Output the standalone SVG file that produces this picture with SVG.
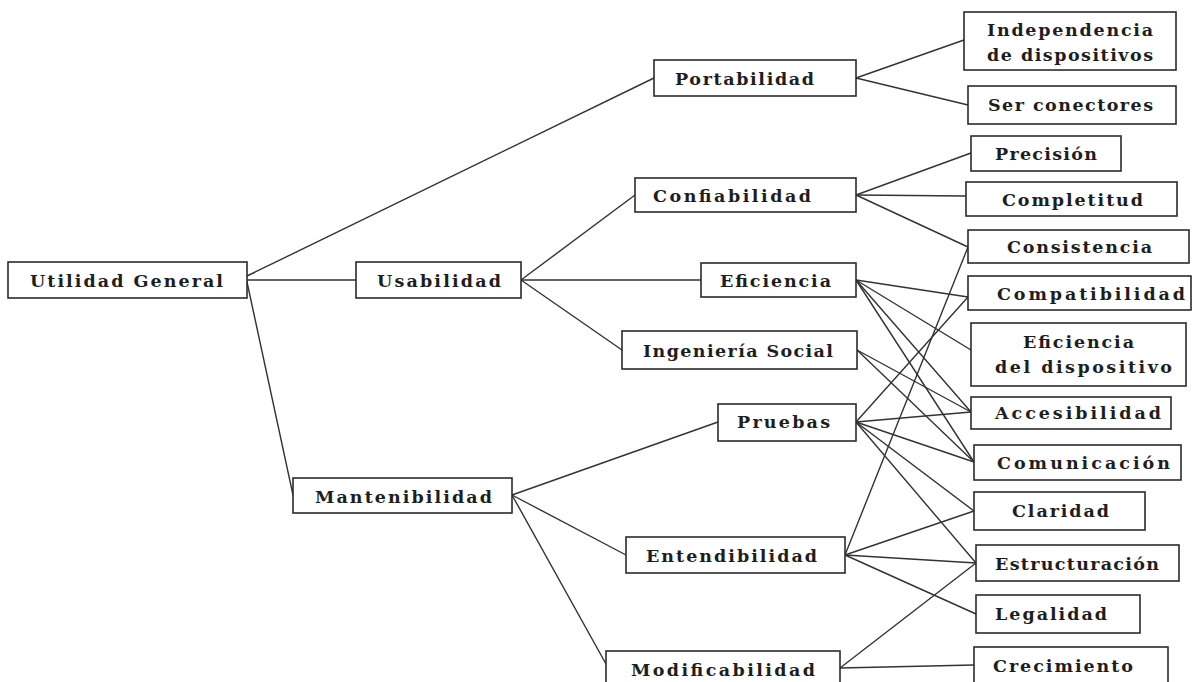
<svg xmlns="http://www.w3.org/2000/svg" width="1196" height="682" viewBox="0 0 1196 682">
  <style>
    .box { fill: #ffffff; stroke: #2b2b2b; stroke-width: 1.6; }
    .lbl { font-family: "DejaVu Serif", "Liberation Serif", serif; font-size: 17.5px; font-weight: bold; fill: #1e1e1e; text-anchor: start; }
    .links line { stroke: #333333; stroke-width: 1.4; stroke-linecap: round; }
  </style>
  <rect width="1196" height="682" fill="#ffffff"/>

  <!-- connectors -->
  <g id="connectors" class="links">
    <!-- root -->
    <line x1="247" y1="276" x2="654" y2="78"/>
    <line x1="247" y1="280" x2="356" y2="280"/>
    <line x1="247" y1="282" x2="293" y2="495"/>
    <!-- Usabilidad -->
    <line x1="521" y1="280" x2="635" y2="195"/>
    <line x1="521" y1="280" x2="701" y2="280"/>
    <line x1="521" y1="280" x2="622" y2="350"/>
    <!-- Mantenibilidad -->
    <line x1="512" y1="495" x2="718" y2="422"/>
    <line x1="512" y1="495" x2="626" y2="555"/>
    <line x1="512" y1="495" x2="606" y2="664"/>
    <!-- Portabilidad -->
    <line x1="856" y1="78" x2="964" y2="40"/>
    <line x1="856" y1="78" x2="968" y2="105"/>
    <!-- Confiabilidad -->
    <line x1="856" y1="195" x2="971" y2="153"/>
    <line x1="856" y1="195" x2="966" y2="196"/>
    <line x1="856" y1="195" x2="968" y2="247"/>
    <!-- Eficiencia -->
    <line x1="856" y1="280" x2="968" y2="297"/>
    <line x1="856" y1="280" x2="971" y2="350"/>
    <line x1="856" y1="280" x2="971" y2="412"/>
    <line x1="856" y1="280" x2="974" y2="462"/>
    <!-- Ingenieria Social -->
    <line x1="857" y1="350" x2="971" y2="412"/>
    <line x1="857" y1="350" x2="974" y2="462"/>
    <!-- Pruebas -->
    <line x1="856" y1="422" x2="968" y2="297"/>
    <line x1="856" y1="422" x2="971" y2="412"/>
    <line x1="856" y1="422" x2="974" y2="462"/>
    <line x1="856" y1="422" x2="974" y2="511"/>
    <line x1="856" y1="422" x2="976" y2="563"/>
    <!-- Entendibilidad -->
    <line x1="845" y1="555" x2="968" y2="247"/>
    <line x1="845" y1="555" x2="974" y2="511"/>
    <line x1="845" y1="555" x2="976" y2="563"/>
    <line x1="845" y1="555" x2="976" y2="614"/>
    <!-- Modificabilidad -->
    <line x1="840" y1="668" x2="976" y2="563"/>
    <line x1="840" y1="668" x2="974" y2="665"/>
  </g>

  <!-- level 0 -->
  <g id="utilidad-general">
    <rect class="box" x="8" y="262" width="239" height="36"/>
    <text class="lbl" x="30" y="287" textLength="193">Utilidad General</text>
  </g>

  <!-- level 1 -->
  <g id="usabilidad">
    <rect class="box" x="356" y="262" width="165" height="36"/>
    <text class="lbl" x="377" y="287" textLength="124">Usabilidad</text>
  </g>
  <g id="mantenibilidad">
    <rect class="box" x="293" y="478" width="219" height="35"/>
    <text class="lbl" x="315" y="503" textLength="177">Mantenibilidad</text>
  </g>

  <!-- level 2 -->
  <g id="portabilidad">
    <rect class="box" x="654" y="60" width="202" height="36"/>
    <text class="lbl" x="675" y="85" textLength="139">Portabilidad</text>
  </g>
  <g id="confiabilidad">
    <rect class="box" x="635" y="178" width="221" height="34"/>
    <text class="lbl" x="653" y="202" textLength="158">Confiabilidad</text>
  </g>
  <g id="eficiencia">
    <rect class="box" x="701" y="263" width="155" height="34"/>
    <text class="lbl" x="720" y="287" textLength="111">Eficiencia</text>
  </g>
  <g id="ingenieria-social">
    <rect class="box" x="622" y="331" width="235" height="38"/>
    <text class="lbl" x="643" y="357" textLength="190">Ingeniería Social</text>
  </g>
  <g id="pruebas">
    <rect class="box" x="718" y="404" width="138" height="37"/>
    <text class="lbl" x="737" y="428" textLength="93">Pruebas</text>
  </g>
  <g id="entendibilidad">
    <rect class="box" x="626" y="537" width="219" height="36"/>
    <text class="lbl" x="646" y="562" textLength="171">Entendibilidad</text>
  </g>
  <g id="modificabilidad">
    <rect class="box" x="606" y="651" width="234" height="40"/>
    <text class="lbl" x="631" y="676" textLength="184">Modificabilidad</text>
  </g>

  <!-- level 3 -->
  <g id="independencia-de-dispositivos">
    <rect class="box" x="964" y="12" width="212" height="58"/>
    <text class="lbl" x="987" y="36" textLength="166">Independencia</text>
    <text class="lbl" x="987" y="61" textLength="166">de dispositivos</text>
  </g>
  <g id="ser-conectores">
    <rect class="box" x="968" y="86" width="208" height="38"/>
    <text class="lbl" x="988" y="111" textLength="165">Ser conectores</text>
  </g>
  <g id="precision">
    <rect class="box" x="971" y="136" width="150" height="35"/>
    <text class="lbl" x="995" y="160" textLength="102">Precisión</text>
  </g>
  <g id="completitud">
    <rect class="box" x="966" y="182" width="211" height="34"/>
    <text class="lbl" x="1002" y="206" textLength="141">Completitud</text>
  </g>
  <g id="consistencia">
    <rect class="box" x="968" y="230" width="221" height="33"/>
    <text class="lbl" x="1007" y="253" textLength="145">Consistencia</text>
  </g>
  <g id="compatibilidad">
    <rect class="box" x="968" y="276" width="223" height="34"/>
    <text class="lbl" x="997" y="300" textLength="188">Compatibilidad</text>
  </g>
  <g id="eficiencia-del-dispositivo">
    <rect class="box" x="971" y="323" width="215" height="63"/>
    <text class="lbl" x="1023" y="348" textLength="111">Eficiencia</text>
    <text class="lbl" x="995" y="373" textLength="177">del dispositivo</text>
  </g>
  <g id="accesibilidad">
    <rect class="box" x="971" y="397" width="200" height="32"/>
    <text class="lbl" x="995" y="419" textLength="166">Accesibilidad</text>
  </g>
  <g id="comunicacion">
    <rect class="box" x="974" y="445" width="207" height="35"/>
    <text class="lbl" x="997" y="469" textLength="173">Comunicación</text>
  </g>
  <g id="claridad">
    <rect class="box" x="974" y="492" width="171" height="38"/>
    <text class="lbl" x="1012" y="517" textLength="97">Claridad</text>
  </g>
  <g id="estructuracion">
    <rect class="box" x="976" y="545" width="203" height="36"/>
    <text class="lbl" x="995" y="570" textLength="164">Estructuración</text>
  </g>
  <g id="legalidad">
    <rect class="box" x="976" y="595" width="164" height="38"/>
    <text class="lbl" x="995" y="620" textLength="112">Legalidad</text>
  </g>
  <g id="crecimiento">
    <rect class="box" x="974" y="647" width="194" height="44"/>
    <text class="lbl" x="993" y="672" textLength="140">Crecimiento</text>
  </g>
</svg>
